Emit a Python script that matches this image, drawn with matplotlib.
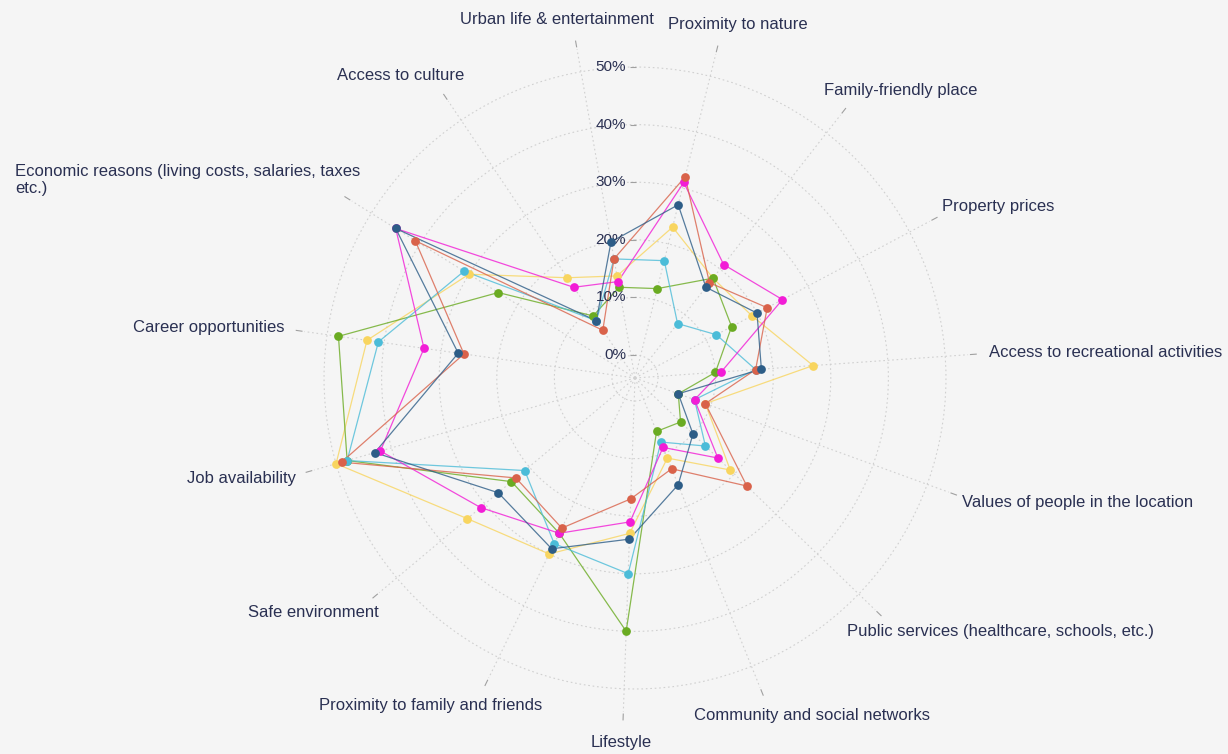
import numpy as np
import matplotlib
matplotlib.use("Agg")
import matplotlib.pyplot as plt
from matplotlib.transforms import ScaledTranslation

# categories clockwise, starting just left of the top
categories = [
    "Urban life & entertainment",
    "Proximity to nature",
    "Family-friendly place",
    "Property prices",
    "Access to recreational activities",
    "Values of people in the location",
    "Public services (healthcare, schools, etc.)",
    "Community and social networks",
    "Lifestyle",
    "Proximity to family and friends",
    "Safe environment",
    "Job availability",
    "Career opportunities",
    "Economic reasons (living costs, salaries, taxes\netc.)",
    "Access to culture",
]

# values in percent, same order as categories
yellow = [14, 23, 18, 19, 27, 9, 19, 11, 23, 30, 34, 50, 43, 30, 17]
green = [12, 12, 18, 15, 10, 4, 7, 6, 40, 26, 24, 48, 48, 24, 9]
cyan = [17, 17, 8, 12, 17, 7, 13, 8, 30, 28, 21, 48, 41, 31, 8]
magenta = [13, 31, 21, 25, 11, 7, 16, 9, 21, 26, 31, 42, 33, 45, 15]
red = [17, 32, 17, 22, 17, 9, 23, 13, 17, 25, 23, 49, 26, 41, 6]
dark_blue = [20, 27, 16, 20, 18, 4, 10, 16, 24, 29, 27, 43, 27, 45, 8]

radial_ticks = [0, 10, 20, 30, 40, 50]

series = [
    (yellow, "#f8d55f"),
    (green, "#6aab22"),
    (cyan, "#4cbcd8"),
    (magenta, "#f21dd6"),
    (red, "#d9624a"),
    (dark_blue, "#2d5d87"),
]

BG = "#f5f5f5"
TXT = "#2a3052"
R_MIN, R_MAX = -4, 54

plt.rcParams["font.family"] = ["Liberation Sans", "DejaVu Sans"]

fig = plt.figure(figsize=(12.28, 7.54), dpi=100, facecolor=BG)
ax = fig.add_axes([301 / 1228, 42 / 754, 668 / 1228, 668 / 754],
                  projection="polar", facecolor=BG)
ax.set_theta_zero_location("N")
ax.set_theta_direction(-1)

angles = np.deg2rad((-10 + 24 * np.arange(len(categories))) % 360)
closed = np.append(angles, angles[0])

for values, color in series:
    v = np.append(values, values[0])
    ax.plot(closed, v, color=color, lw=0.9, alpha=0.8, zorder=3)
    ax.plot(angles, values, ls="none", marker="o", ms=6.3, color=color,
            mec=color, mew=0, zorder=4)

ax.set_xticks(angles)
ax.set_xticklabels([])
ax.set_yticks(radial_ticks)
ax.set_yticklabels([])
ax.grid(True, color="#d0d0d0", ls=(0, (1.5, 2.5)), lw=0.8)
ax.spines["polar"].set_visible(False)
ax.tick_params(length=0)

# radial tick labels along the vertical axis
for v in radial_ticks:
    off = ScaledTranslation(-9 / 100, 0, fig.dpi_scale_trans)
    ax.text(0, v, f"{v}%", transform=ax.transData + off, ha="right",
            va="center", fontsize=11, color=TXT)
    off2 = ScaledTranslation(-2.5 / 100, 0, fig.dpi_scale_trans)
    ax.plot([0], [v], marker="_", ms=4, color="#a0a0a0", mew=0.8,
            transform=ax.transData + off2, clip_on=False)

# small angular ticks outside the plot area
for a in angles:
    ax.plot([a, a], [R_MAX + 0.4, R_MAX + 1.4], color="#a0a0a0", lw=0.8,
            clip_on=False)

ax.set_xlim(0, 2 * np.pi)
ax.set_ylim(R_MIN, R_MAX)

fig.canvas.draw()
renderer = fig.canvas.get_renderer()
for a, name in zip(angles, categories):
    s, c = np.sin(a), np.cos(a)
    t = ax.text(a, R_MAX, name, ha="center", va="center", fontsize=12,
                color=TXT, multialignment="left", clip_on=False)
    bb = t.get_window_extent(renderer)
    dx = s * (21 + bb.width / 2)
    dy = c * (21 + bb.height / 2 + 2)
    t.set_transform(ax.transData + ScaledTranslation(dx / 100, dy / 100,
                                                     fig.dpi_scale_trans))

fig.savefig("out.png", dpi=100, facecolor=BG)
